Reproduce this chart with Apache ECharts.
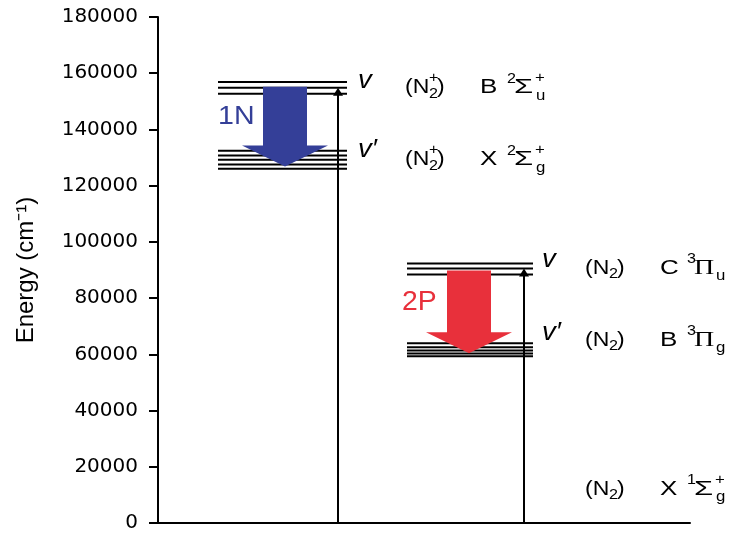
<!DOCTYPE html>
<html><head><meta charset="utf-8">
<script src="https://cdn.jsdelivr.net/npm/echarts@6/dist/echarts.min.js"></script>
<style>html,body{margin:0;padding:0;background:#fff}#c{width:739px;height:533px}</style>
</head><body><div id="c"></div>
<script>
// ---- data (energies in cm^-1) ----
const yTickValues = [0, 20000, 40000, 60000, 80000, 100000, 120000, 140000, 160000, 180000];
const levelsN2pB = [156900, 154800, 152700];          // (N2+) B 2Σu+ vibrational levels
const levelsN2pX = [132400, 130700, 129200, 127500, 126000]; // (N2+) X 2Σg+
const levelsN2C  = [92300, 90500, 88400];             // (N2) C 3Πu
const levelsN2B  = [63900, 62500, 61400, 60300, 59300]; // (N2) B 3Πg
const groundN2X  = 0;                                 // (N2) X 1Σg+
const excite1N   = [0, 154800];   // ground -> (N2+) B
const excite2P   = [0, 90500];    // ground -> (N2) C
const emission1N = [155200, 126800]; // 1N band: top, tip
const emission2P = [89800, 60400];   // 2P band: top, tip

// ---- layout (x axis runs 0..532 in grid units) ----
const L = { ionL: 60, ionR: 189, neuL: 249, neuR: 375, ex1: 180, ex2: 366, em1: 127, em2: 311,
  lab1: 247, lab2: 427, v1: 200, v2: 384, t1: 60, t2: 244 };
const BLUE = '#343f98', RED = '#e8303b';
const SANS = '"Liberation Sans", Arial, Helvetica, sans-serif';
const SERIF = '"Liberation Serif", "Times New Roman", serif';

const levelData = []
  .concat(levelsN2pB.map(e => [L.ionL, L.ionR, e]))
  .concat(levelsN2pX.map(e => [L.ionL, L.ionR, e]))
  .concat(levelsN2C.map(e => [L.neuL, L.neuR, e]))
  .concat(levelsN2B.map(e => [L.neuL, L.neuR, e]));

function txt(x, y, s, size, o) {
  o = o || {};
  return { type: 'text', silent: true, x: x, y: y, scaleX: o.sx || 1, scaleY: 1,
    style: {
      text: s, x: 0, y: 0, fill: o.color || '#000',
      font: (o.italic ? 'italic ' : '') + size + 'px ' + (o.family || SANS),
      align: o.align || 'left', verticalAlign: 'middle' } };
}
function stateLabel(p, ion, letter, mult, sym, symFamily, sub, sup) {
  const x0 = p[0], cy = p[1], out = [], M = 20, S = 14, SX = 1.15;
  out.push(txt(x0, cy, '(N', M, { sx: SX }));
  out.push(txt(x0 + 24, cy + 6, '2', S, { sx: SX }));
  if (ion) out.push(txt(x0 + 24, cy - 9.5, '+', S, { sx: SX }));
  out.push(txt(x0 + 32, cy, ')', M, { sx: SX }));
  out.push(txt(x0 + 75, cy, letter, M, { sx: 1.3 }));
  out.push(txt(x0 + 102, cy - 9, mult, S, { sx: SX }));
  out.push(txt(x0 + 109, cy, sym, M, { family: symFamily, sx: symFamily === SERIF ? 1.4 : 1.55 }));
  if (sup) out.push(txt(x0 + 130, cy - 9.5, '+', S, { sx: 1.2 }));
  out.push(txt(x0 + 131, cy + 8, sub, S, { sx: 1.2 }));
  return out;
}
function shift(p, dy) { return [p[0], p[1] + dy]; }

const chart = echarts.init(document.getElementById('c'), null, { renderer: 'canvas' });
chart.setOption({
  animation: false,
  backgroundColor: '#fff',
  grid: { left: 158, right: 49, top: 17, bottom: 8 },
  xAxis: { type: 'value', min: 0, max: 532,
    axisLine: { show: true, lineStyle: { color: '#000', width: 2 } },
    axisTick: { show: false }, axisLabel: { show: false }, splitLine: { show: false } },
  yAxis: { type: 'value', min: 0, max: 180000, interval: 20000,
    name: 'Energy (cm⁻¹)', nameLocation: 'middle', nameGap: 120, nameRotate: 90,
    nameTextStyle: { fontFamily: SANS, fontSize: 24, color: '#000' },
    axisLine: { show: true, lineStyle: { color: '#000', width: 2 } },
    axisTick: { show: true, inside: false, length: 9, lineStyle: { color: '#000', width: 2 } },
    axisLabel: { margin: 20, color: '#000', fontFamily: '"DejaVu Sans", sans-serif', fontSize: 20,
      formatter: function (v) { return String(v); } },
    splitLine: { show: false } },
  series: [
    { type: 'custom', name: 'levels', clip: false, data: levelData, encode: { x: [0, 1], y: 2 },
      renderItem: function (params, api) {
        const a = api.coord([api.value(0), api.value(2)]);
        const b = api.coord([api.value(1), api.value(2)]);
        return { type: 'line', shape: { x1: a[0], y1: a[1], x2: b[0], y2: b[1] },
          style: { stroke: '#000', lineWidth: 2 } };
      } },
    { type: 'custom', name: 'excitation', clip: false,
      data: [[L.ex1, excite1N[0], excite1N[1]], [L.ex2, excite2P[0], excite2P[1]]],
      encode: { x: 0, y: [1, 2] },
      renderItem: function (params, api) {
        const a = api.coord([api.value(0), api.value(1)]);
        const b = api.coord([api.value(0), api.value(2)]);
        return { type: 'group', children: [
          { type: 'line', shape: { x1: a[0], y1: a[1], x2: b[0], y2: b[1] + 6 },
            style: { stroke: '#000', lineWidth: 2 } },
          { type: 'polygon', shape: { points: [[b[0], b[1]], [b[0] - 5, b[1] + 8], [b[0] + 5, b[1] + 8]] },
            style: { fill: '#000' } } ] };
      } },
    { type: 'custom', name: 'emission', clip: false,
      data: [
        { value: [L.em1, emission1N[0], emission1N[1]], itemStyle: { color: BLUE } },
        { value: [L.em2, emission2P[0], emission2P[1]], itemStyle: { color: RED } } ],
      encode: { x: 0, y: [1, 2] },
      renderItem: function (params, api) {
        const t = api.coord([api.value(0), api.value(1)]);
        const p = api.coord([api.value(0), api.value(2)]);
        const cx = t[0], sw = 22, hw = 43, hl = 21, by = p[1] - hl;
        return { type: 'polygon', shape: { points: [
          [cx - sw, t[1]], [cx - sw, by], [cx - hw, by], [cx, p[1]], [cx + hw, by], [cx + sw, by], [cx + sw, t[1]] ] },
          style: { fill: api.visual('color') } };
      } },
    { type: 'custom', name: 'labels', clip: false, data: [[0, 0]], encode: { x: 0, y: 1 },
      renderItem: function (params, api) {
        const ch = [];
        ch.push(...stateLabel(api.coord([L.lab1, levelsN2pB[1]]), true, 'B', '2', 'Σ', SANS, 'u', true));
        ch.push(...stateLabel(api.coord([L.lab1, levelsN2pX[2]]), true, 'X', '2', 'Σ', SANS, 'g', true));
        ch.push(...stateLabel(api.coord([L.lab2, levelsN2C[1]]), false, 'C', '3', 'Π', SERIF, 'u', false));
        ch.push(...stateLabel(shift(api.coord([L.lab2, levelsN2B[2]]), -10), false, 'B', '3', 'Π', SERIF, 'g', false));
        ch.push(...stateLabel(shift(api.coord([L.lab2, groundN2X]), -33.5), false, 'X', '1', 'Σ', SANS, 'g', true));
        const v1 = api.coord([L.v1, levelsN2pB[0]]), v1p = api.coord([L.v1, levelsN2pX[0]]);
        const v2 = api.coord([L.v2, levelsN2C[0]]), v2p = api.coord([L.v2, levelsN2B[0]]);
        ch.push(txt(v1[0], v1[1] - 1, 'v', 25, { italic: true, sx: 1.1 }));
        ch.push(txt(v1p[0], v1p[1] - 1, 'v′', 25, { italic: true, sx: 1.1 }));
        ch.push(txt(v2[0], v2[1] - 3.5, 'v', 25, { italic: true, sx: 1.1 }));
        ch.push(txt(v2p[0], v2p[1] - 10.5, 'v′', 25, { italic: true, sx: 1.1 }));
        const a1 = api.coord([L.t1, 144500]), a2 = api.coord([L.t2, 78400]);
        ch.push(txt(a1[0], a1[1], '1N', 26, { color: BLUE, sx: 1.1 }));
        ch.push(txt(a2[0], a2[1], '2P', 27, { color: RED, sx: 1.05 }));
        return { type: 'group', children: ch };
      } }
  ]
});
</script></body></html>
